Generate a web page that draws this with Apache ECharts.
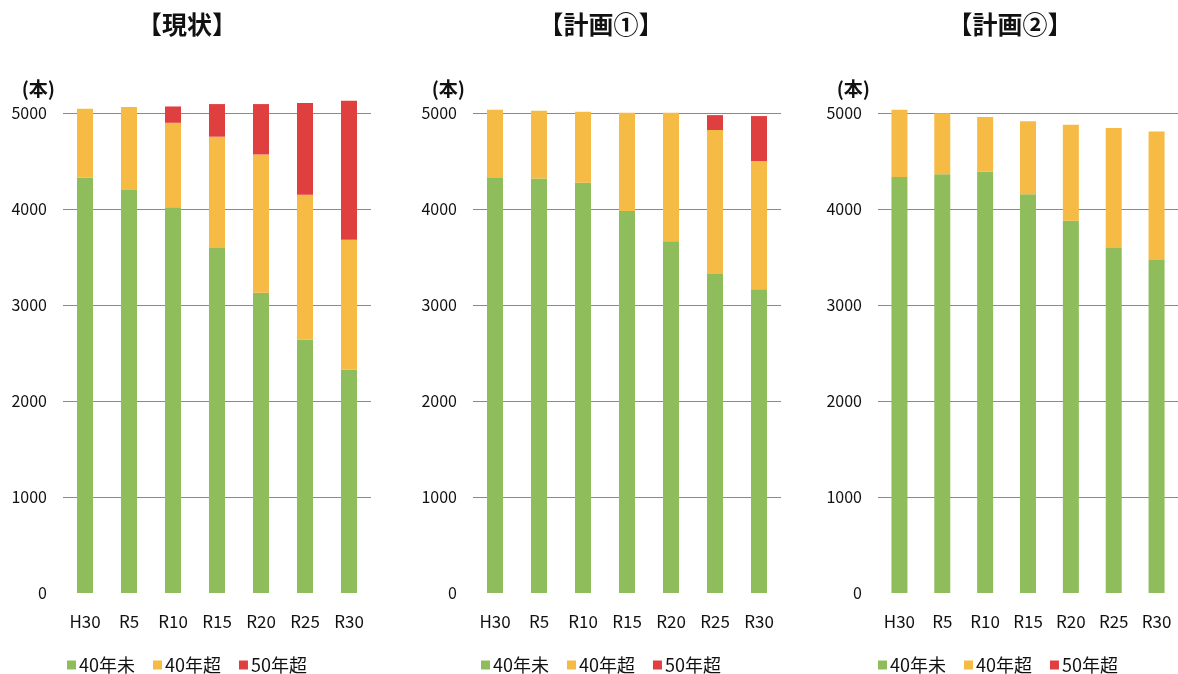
<!DOCTYPE html>
<html><head><meta charset="utf-8">
<script src="https://cdn.jsdelivr.net/npm/echarts@6/dist/echarts.min.js"></script>
<style>html,body{margin:0;padding:0;background:#fff}#c{width:1178px;height:674px}</style>
</head><body><div id="c"></div>
<script>
// ---- data ----
const categories = ['H30', 'R5', 'R10', 'R15', 'R20', 'R25', 'R30'];
const panelTitles = ['【現状】', '【計画①】', '【計画②】'];
const seriesNames = ['40年未', '40年超', '50年超'];
const unitLabel = '(本)';
const yTickMin = 0, yTickMax = 5000, yTickStep = 1000;

// 現状
const current_under40 = [4330, 4200, 4020, 3595, 3130, 2640, 2330];
const current_over40  = [715, 865, 880, 1160, 1440, 1510, 1350];
const current_over50  = [0, 0, 170, 340, 525, 955, 1450];
// 計画①
const plan1_under40 = [4325, 4320, 4275, 3980, 3665, 3325, 3165];
const plan1_over40  = [710, 705, 740, 1025, 1340, 1500, 1335];
const plan1_over50  = [0, 0, 0, 0, 0, 155, 470];
// 計画②
const plan2_under40 = [4335, 4365, 4390, 4155, 3880, 3595, 3470];
const plan2_over40  = [700, 635, 570, 760, 1000, 1250, 1340];
const plan2_over50  = [0, 0, 0, 0, 0, 0, 0];

const panelData = [
  [current_under40, current_over40, current_over50],
  [plan1_under40, plan1_over40, plan1_over50],
  [plan2_under40, plan2_over40, plan2_over50]
];

// ---- style / layout ----
const colors = ['#8fbd5b', '#f5bb44', '#df3f3f'];
const FONT = '"Noto Sans CJK JP", "Noto Sans", sans-serif';
const TEXT = '#111';
const layout = [
  { gridLeft: 63,  gridWidth: 308, titleX: 187,  legendLeft: 62 },
  { gridLeft: 473, gridWidth: 308, titleX: 601,  legendLeft: 476 },
  { gridLeft: 878, gridWidth: 302, titleX: 1010, legendLeft: 873 }
];
const gridTop = 94, gridHeight = 499;
const axisMax = yTickMax + 200;

const option = {
  backgroundColor: '#fff',
  animation: false,
  textStyle: { fontFamily: FONT },
  title: [], legend: [], grid: [], xAxis: [], yAxis: [], series: []
};

layout.forEach((L, i) => {
  option.title.push({
    text: panelTitles[i], left: L.titleX, top: 12, textAlign: 'center', padding: 0,
    textStyle: { fontFamily: FONT, fontSize: 25, fontWeight: 'bold', color: TEXT }
  });
  option.legend.push({
    data: seriesNames, left: L.legendLeft, top: 651, icon: 'rect',
    itemWidth: 9, itemHeight: 9, itemGap: 18,
    textStyle: { fontFamily: FONT, fontSize: 18, color: TEXT, padding: [0, 0, 0, -2] }
  });
  option.grid.push({ left: L.gridLeft, width: L.gridWidth, top: gridTop, height: gridHeight, containLabel: false });
  option.xAxis.push({
    type: 'category', gridIndex: i, data: categories,
    axisLine: { show: false }, axisTick: { show: false },
    axisLabel: { margin: 20, fontSize: 17, color: TEXT, fontFamily: FONT, interval: 0 }
  });
  option.yAxis.push({
    type: 'value', gridIndex: i, min: yTickMin, max: axisMax, interval: yTickStep,
    name: unitLabel, nameLocation: 'end', nameGap: -4,
    nameTextStyle: { fontFamily: FONT, fontSize: 19, fontWeight: 'bold', color: TEXT, align: 'right', padding: [0, 8, 0, 0] },
    axisLine: { show: false }, axisTick: { show: false },
    axisLabel: { margin: 16, fontSize: 16, color: TEXT, fontFamily: FONT, showMaxLabel: false,
      formatter: v => String(v) },
    splitLine: { show: true, showMinLine: false, showMaxLine: false, lineStyle: { color: '#8a8a8a', width: 1 } }
  });
  panelData[i].forEach((vals, k) => {
    option.series.push({
      type: 'bar', name: seriesNames[k], xAxisIndex: i, yAxisIndex: i,
      stack: 'p' + i, data: vals, barWidth: 16,
      itemStyle: { color: colors[k] }
    });
  });
});

const chart = echarts.init(document.getElementById('c'), null, { renderer: 'canvas' });
chart.setOption(option);
</script></body></html>
